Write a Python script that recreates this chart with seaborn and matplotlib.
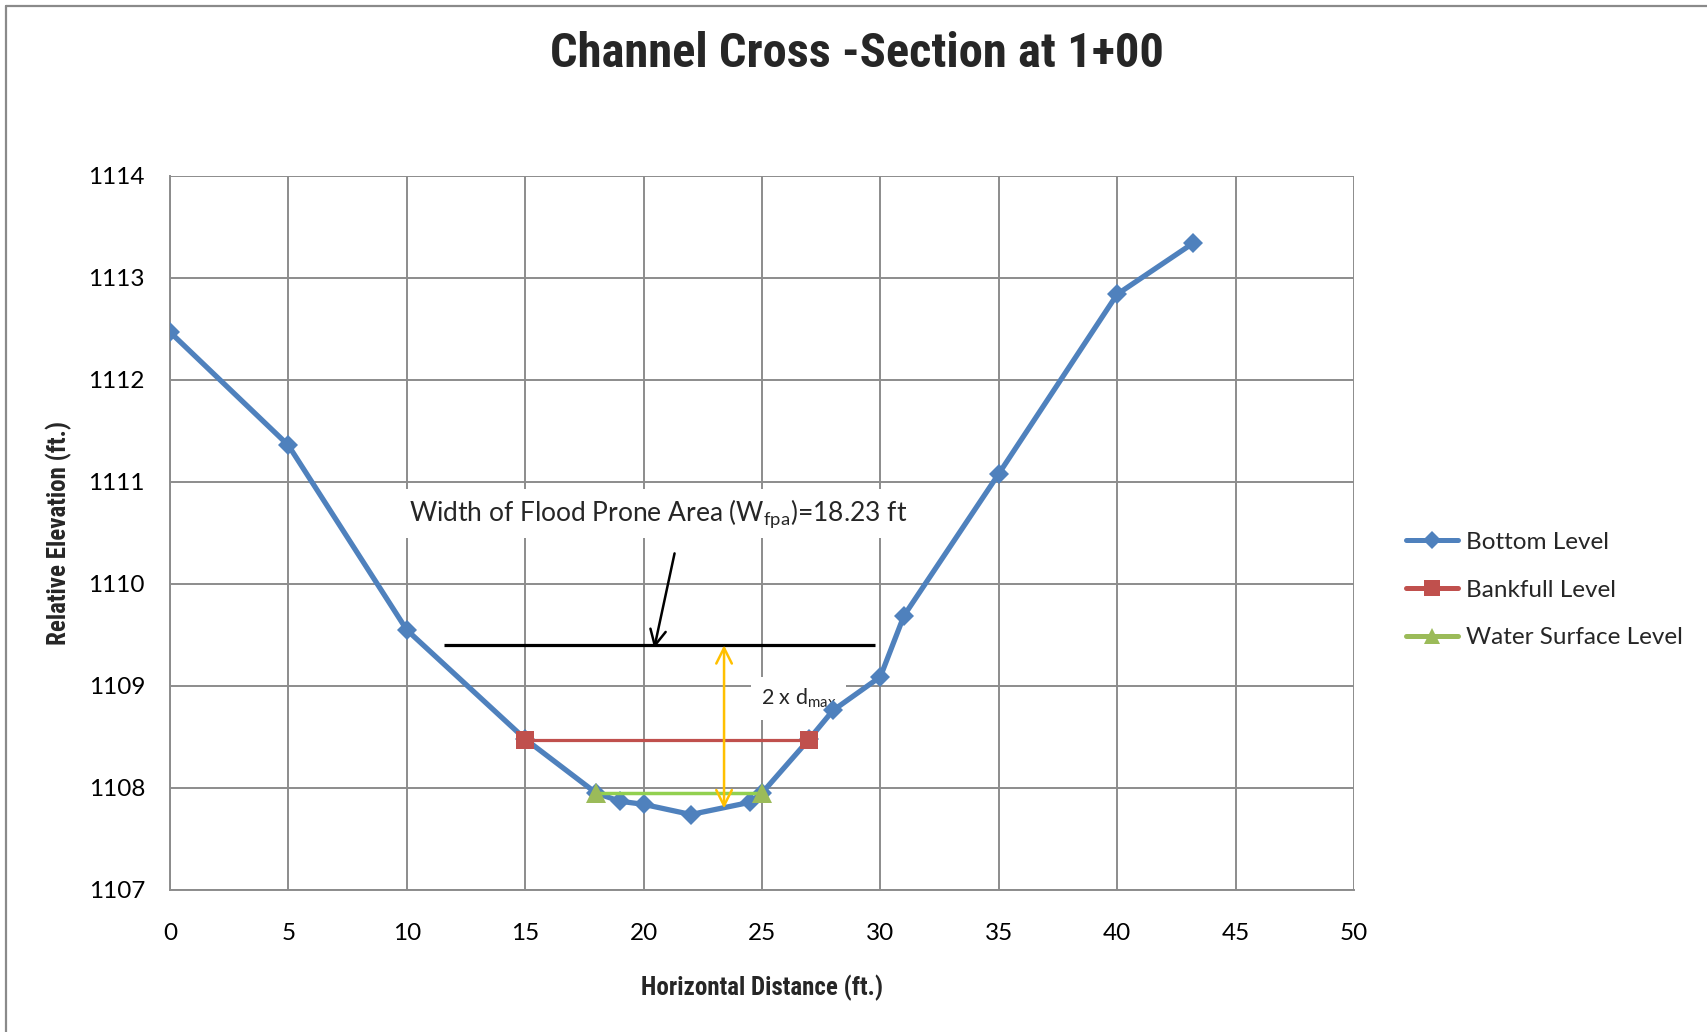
import matplotlib
matplotlib.use("Agg")
import matplotlib.pyplot as plt
from matplotlib.lines import Line2D
from matplotlib import font_manager
import seaborn as sns
import pandas as pd

# Surveyed channel profile (station in ft, elevation in ft)
bottom_x = [0, 5, 10, 15, 18, 19, 20, 22, 24.5, 25, 27, 28, 30, 31, 35, 40, 43.2]
bottom_y = [1112.47, 1111.36, 1109.55, 1108.48, 1107.95, 1107.87, 1107.84, 1107.74,
            1107.86, 1107.95, 1108.48, 1108.76, 1109.09, 1109.69, 1111.08, 1112.84, 1113.34]

# Bankfull and water surface levels
bankfull_x = [15, 27]
bankfull_y = [1108.47, 1108.47]
water_x = [18, 25]
water_y = [1107.95, 1107.95]

# Flood prone area: width and elevation of the 2 x dmax line
wfpa_width = 18.23
wfpa_center = 20.68
wfpa_elev = 1109.40
dmax_station = 23.4
dmax_low = 1107.80

x_ticks = list(range(0, 51, 5))
y_ticks = list(range(1107, 1115))

BLUE = "#4F81BD"
RED = "#C0504D"
OLIVE = "#9BBB59"
LIME = "#92D050"
GOLD = "#FFC000"
GRID = "#8C8C8C"

installed = {f.name for f in font_manager.fontManager.ttflist}


def first_font(*names):
    for n in names:
        if n in installed:
            return n
    return "DejaVu Sans"


BODY = first_font("Lato", "Open Sans", "Noto Sans")
NARROW = first_font("Liberation Sans Narrow", "Roboto Condensed", "Open Sans Condensed",
                    "Noto Sans Condensed", "Lato")

sns.set_theme(style="white")
plt.rcParams["font.family"] = [BODY, "DejaVu Sans"]
plt.rcParams["mathtext.fontset"] = "custom"
plt.rcParams["mathtext.rm"] = BODY

fig = plt.figure(figsize=(17.08, 10.32), dpi=100)
ax = fig.add_axes([0.0995, 0.1376, 0.6932, 0.6919])

# chart-area border (left and top edges)
fig.add_artist(Line2D([6 / 1708, 6 / 1708], [0, 1 - 6 / 1032], color="#8a8a8a", lw=1.6,
                      transform=fig.transFigure))
fig.add_artist(Line2D([6 / 1708, 1], [1 - 6 / 1032, 1 - 6 / 1032], color="#8a8a8a", lw=1.6,
                      transform=fig.transFigure))

bottom_df = pd.DataFrame({"x": bottom_x, "y": bottom_y})
bank_df = pd.DataFrame({"x": bankfull_x, "y": bankfull_y})
water_df = pd.DataFrame({"x": water_x, "y": water_y})

sns.lineplot(data=bottom_df, x="x", y="y", ax=ax, sort=False, estimator=None,
             color=BLUE, lw=3.8, marker="D", markersize=10.5, markeredgewidth=0,
             zorder=4)
sns.lineplot(data=bank_df, x="x", y="y", ax=ax, sort=False, estimator=None,
             color=RED, lw=2.3, marker="s", markersize=13.5, markeredgewidth=0,
             zorder=5)
sns.lineplot(data=water_df, x="x", y="y", ax=ax, sort=False, estimator=None,
             color=LIME, lw=2.5, marker="^", markersize=14, markeredgewidth=0,
             markerfacecolor=OLIVE, zorder=5)

# flood prone width line
ax.plot([wfpa_center - wfpa_width / 2, wfpa_center + wfpa_width / 2],
        [wfpa_elev, wfpa_elev], color="black", lw=2.3, zorder=6, solid_capstyle="butt")

# 2 x dmax dimension arrow
ax.annotate("", xy=(dmax_station, wfpa_elev), xytext=(dmax_station, dmax_low),
            arrowprops=dict(arrowstyle="<->", color=GOLD, lw=1.8, mutation_scale=28,
                            shrinkA=0, shrinkB=0), zorder=7)
ax.text(24.95, 1108.82, "2 x d$_\\mathregular{max}$", fontsize=15.5, ha="left",
        va="baseline", zorder=3.5,
        bbox=dict(boxstyle="square,pad=0.45", fc="white", ec="none"))

ax.text(10.1, 1110.69, "Width of Flood Prone Area (W$_\\mathregular{fpa}$)=18.23 ft",
        fontsize=19, ha="left", va="center", zorder=6,
        bbox=dict(boxstyle="square,pad=0.3", fc="white", ec="none"))
ax.annotate("", xy=(20.45, 1109.37), xytext=(21.31, 1110.30),
            arrowprops=dict(arrowstyle="->", color="black", lw=1.8, mutation_scale=28,
                            shrinkA=0, shrinkB=0), zorder=7)

ax.set_xlim(0, 50)
ax.set_ylim(1107, 1114)
ax.set_xticks(x_ticks)
ax.set_yticks(y_ticks)
ax.grid(True, color=GRID, lw=1.4)
ax.set_axisbelow(True)
for side in ["top", "right"]:
    ax.spines[side].set_visible(False)
for side in ["left", "bottom"]:
    ax.spines[side].set_color(GRID)
    ax.spines[side].set_linewidth(1.4)
ax.tick_params(axis="both", which="major", direction="out", length=6, width=1.2,
               color=GRID, labelsize=17.5, labelcolor="black")
ax.tick_params(axis="x", pad=18)
ax.tick_params(axis="y", pad=12)
ax.set_xlabel("Horizontal Distance (ft.)", fontsize=18, fontweight="bold", family=NARROW,
              labelpad=22)
ax.set_ylabel("Relative Elevation (ft.)", fontsize=18, fontweight="bold", family=NARROW,
              labelpad=12)

fig.text(0.502, 0.948, "Channel Cross -Section at 1+00", fontsize=35, fontweight="bold",
         family=NARROW, ha="center", va="center")

handles = [
    Line2D([], [], color=BLUE, lw=3.6, marker="D", markersize=9, markeredgewidth=0),
    Line2D([], [], color=RED, lw=3.6, marker="s", markersize=11, markeredgewidth=0),
    Line2D([], [], color=OLIVE, lw=3.6, marker="^", markersize=12, markeredgewidth=0),
]
labels = ["Bottom Level", "Bankfull Level", "Water Surface Level"]
fig.legend(handles, labels, loc="center left", bbox_to_anchor=(1406 / 1708, 1 - 590 / 1032),
           frameon=False, fontsize=17.5, handlelength=2.15, handletextpad=0.3,
           labelspacing=1.1, borderpad=0, borderaxespad=0)

fig.savefig("out.png", dpi=100, facecolor="white")
